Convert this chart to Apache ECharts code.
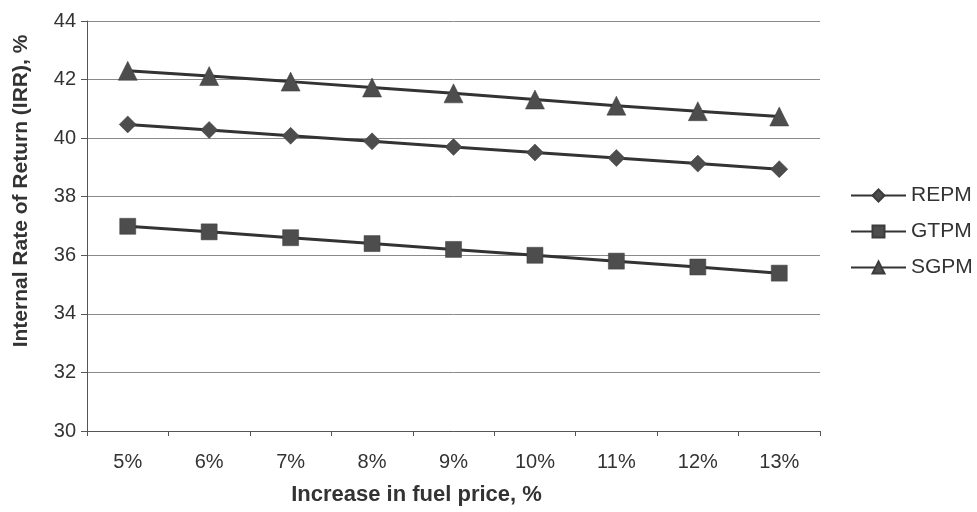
<!DOCTYPE html>
<html>
<head>
<meta charset="utf-8">
<script src="https://cdn.jsdelivr.net/npm/echarts@6/dist/echarts.min.js"></script>
<style>html,body{margin:0;padding:0;background:#fff}#c{width:977px;height:512px}</style>
</head>
<body>
<div id="c"></div>
<script>
const categories = ['5%', '6%', '7%', '8%', '9%', '10%', '11%', '12%', '13%'];
const repm = [40.47, 40.28, 40.08, 39.89, 39.70, 39.51, 39.32, 39.13, 38.94];
const gtpm = [36.99, 36.80, 36.60, 36.40, 36.20, 36.00, 35.80, 35.60, 35.39];
const sgpm = [42.30, 42.12, 41.93, 41.73, 41.53, 41.32, 41.11, 40.92, 40.74];
const yTicks = { min: 30, max: 44, interval: 2 };

const font = 'Liberation Sans, Arial, sans-serif';
const lineColor = '#333333';
const markColor = '#4d4d4d';
function mk(name, data, symbol, size) {
  return {
    name: name, type: 'line', data: data, symbol: symbol, symbolSize: size,
    showAllSymbol: true,
    lineStyle: { color: lineColor, width: 3 },
    itemStyle: { color: markColor, borderColor: '#3c3c3c', borderWidth: 0.5 },
    emphasis: { disabled: true }, animation: false
  };
}
const chart = echarts.init(document.getElementById('c'), null, { renderer: 'canvas' });
chart.setOption({
  backgroundColor: '#fff',
  animation: false,
  grid: { left: 87, right: 157, top: 21, bottom: 81 },
  legend: {
    orient: 'vertical', left: 850, top: 185, itemWidth: 55, itemHeight: 15, itemGap: 15,
    padding: 0,
    textStyle: { fontFamily: font, fontSize: 21, color: '#333' },
    data: ['REPM', 'GTPM', 'SGPM']
  },
  xAxis: {
    type: 'category', data: categories, boundaryGap: true,
    name: 'Increase in fuel price, %', nameLocation: 'middle', nameGap: 53,
    nameTextStyle: { fontFamily: font, fontSize: 22, fontWeight: 'bold', color: '#333', padding: [0, 74, 0, 0] },
    axisLine: { lineStyle: { color: '#555', width: 1 } },
    axisTick: { show: true, length: 5, lineStyle: { color: '#555' } },
    axisLabel: { fontFamily: font, fontSize: 20, color: '#333', margin: 21 },
    splitLine: { show: false }
  },
  yAxis: {
    type: 'value', min: yTicks.min, max: yTicks.max, interval: yTicks.interval,
    name: 'Internal Rate of Return (IRR), %', nameLocation: 'middle', nameGap: 55,
    nameTextStyle: { fontFamily: font, fontSize: 21, fontWeight: 'bold', color: '#333', padding: [0, 0, 0, 70] },
    axisLine: { show: true, lineStyle: { color: '#555', width: 1 } },
    axisTick: { show: true, inside: false, length: 6, lineStyle: { color: '#555' } },
    axisLabel: { fontFamily: font, fontSize: 20, color: '#333', margin: 11 },
    splitLine: { show: true, lineStyle: { color: '#8a8a8a', width: 1 } }
  },
  series: [
    mk('REPM', repm, 'diamond', 17),
    mk('GTPM', gtpm, 'rect', 16),
    mk('SGPM', sgpm, 'triangle', 19)
  ]
});
</script>
</body>
</html>
